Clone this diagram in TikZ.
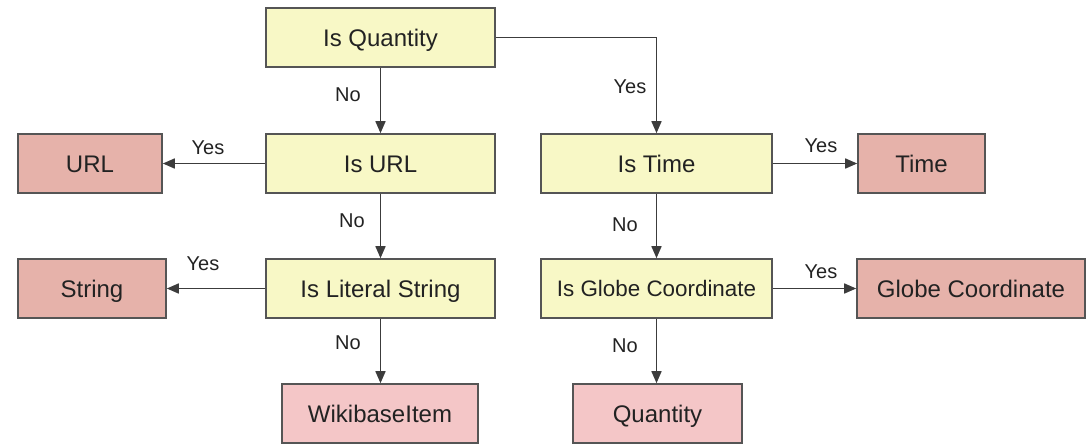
\documentclass[tikz,border=0pt]{standalone}
\usepackage{fontspec}
\setmainfont{Liberation Sans}
\usetikzlibrary{arrows.meta}
\definecolor{testfill}{RGB}{248,248,198}
\definecolor{typefill}{RGB}{230,178,170}
\definecolor{leaffill}{RGB}{244,198,199}
\definecolor{edgegray}{RGB}{85,85,85}
\definecolor{linegray}{RGB}{60,60,60}
\definecolor{inkgray}{RGB}{34,34,34}
\tikzset{
  box/.style={draw=edgegray, line width=0.8pt, inner sep=0pt, minimum height=29.5pt,
    text height=8.6pt, text depth=0pt,
    text=inkgray, font=\fontsize{12}{14}\selectfont},
  test/.style={box, fill=testfill},
  result/.style={box, fill=typefill},
  leaf/.style={box, fill=leaffill},
  flow/.style={draw=linegray, line width=0.8pt, -{Triangle[length=6pt,width=5pt]}},
  tag/.style={text=inkgray, font=\fontsize{10}{12}\selectfont, inner sep=0pt}
}
\begin{document}
\begin{tikzpicture}[x=0.5pt, y=-0.5pt]
\useasboundingbox (0,0) rectangle (1091,445);

% decision boxes
\node[test, minimum width=114.5pt] (q)   at (380.5,37.5)  {Is Quantity};
\node[test, minimum width=114.5pt] (url) at (380.5,163.5) {Is URL};
\node[test, minimum width=114.5pt] (lit) at (380.5,288.5) {Is Literal String};
\node[test, minimum width=115.5pt] (tm)  at (656.5,163.5) {Is Time};
\node[test, minimum width=115.5pt, font=\fontsize{11.2}{13}\selectfont, text height=8pt] (gc) at (656.5,288.5) {Is Globe Coordinate};

% resulting types
\node[result, minimum width=72pt]   (rurl) at (90,163.5)    {URL};
\node[result, minimum width=74pt]   (rstr) at (92,288.5)    {String};
\node[result, minimum width=63.5pt] (rtm)  at (921.5,163.5) {Time};
\node[result, minimum width=114pt]  (rgc)  at (971,288.5)   {Globe Coordinate};
\node[leaf,   minimum width=98pt]   (rwb)  at (380,413.5)   {WikibaseItem};
\node[leaf,   minimum width=84.5pt] (rq)   at (657.5,413.5) {Quantity};

% connectors
\draw[flow] (q.south) -- (url.north);
\draw[flow] (q.east) -| (tm.north);
\draw[flow] (url.west) -- (rurl.east);
\draw[flow] (url.south) -- (lit.north);
\draw[flow] (lit.west) -- (rstr.east);
\draw[flow] (lit.south) -- (lit.south |- rwb.north);
\draw[flow] (tm.east) -- (rtm.west);
\draw[flow] (tm.south) -- (gc.north);
\draw[flow] (gc.east) -- (rgc.west);
\draw[flow] (gc.south) -- (gc.south |- rq.north);

% branch labels
\node[tag] (l1)  at (348,95)  {No};
\node[tag] (l2)  at (630,87)  {Yes};
\node[tag] (l3)  at (208,148) {Yes};
\node[tag] (l4)  at (352,221) {No};
\node[tag] (l5)  at (203,264) {Yes};
\node[tag] (l6)  at (348,343) {No};
\node[tag] (l7)  at (821,146) {Yes};
\node[tag] (l8)  at (625,225) {No};
\node[tag] (l9)  at (821,272) {Yes};
\node[tag] (l10) at (625,346) {No};
\end{tikzpicture}
\end{document}
